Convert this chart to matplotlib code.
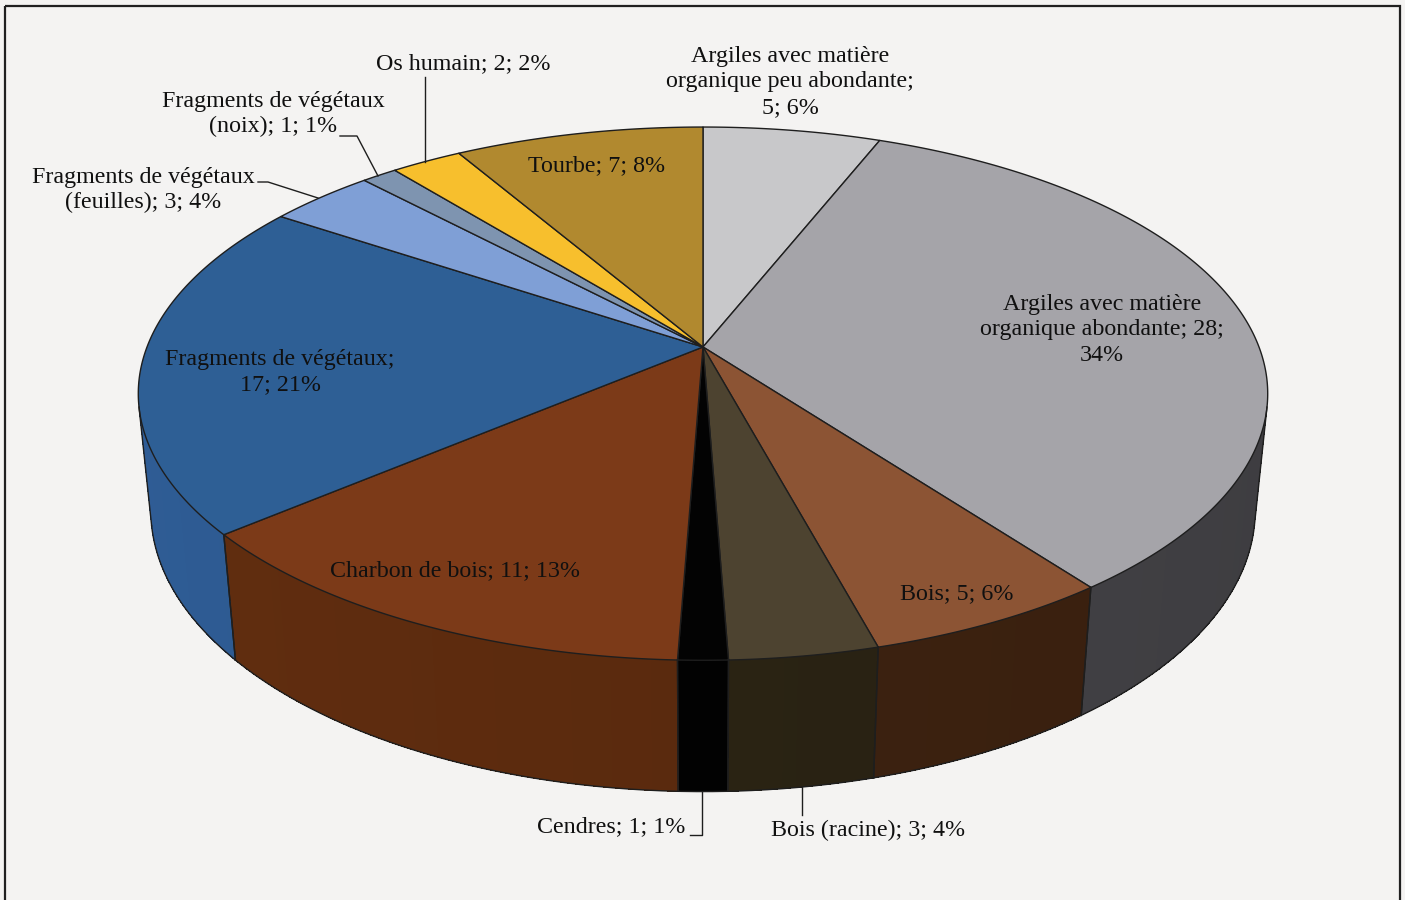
import numpy as np
import matplotlib
matplotlib.use("Agg")
from matplotlib import pyplot as plt
from matplotlib.patches import Polygon, Rectangle

# counts per category, clockwise from 12 o'clock
categories = [
    "Argiles avec matière\norganique peu abondante;\n5; 6%",
    "Argiles avec matière\norganique abondante; 28;\n34%",
    "Bois; 5; 6%",
    "Bois (racine); 3; 4%",
    "Cendres; 1; 1%",
    "Charbon de bois; 11; 13%",
    "Fragments de végétaux;\n17; 21%",
    "Fragments de végétaux\n(feuilles); 3; 4%",
    "Fragments de végétaux\n(noix); 1; 1%",
    "Os humain; 2; 2%",
    "Tourbe; 7; 8%",
]
counts = [5, 28, 5, 3, 1, 11, 17, 3, 1, 2, 7]

top_colors = ["#c8c8ca", "#a5a4a9", "#8c5434", "#4d4330", "#030303", "#7c3a18",
              "#2e5f95", "#7f9fd6", "#7e94b0", "#f7bf2d", "#b1892f"]
side_colors = ["#8a8a8c", "#444347", "#3d2210", "#2a2313", "#020202", "#5a2a0e",
               "#2b5589", "#5a74a0", "#5a6b80", "#b08820", "#7e6020"]

# label anchor in pixels (x, y)
label_pos = [(790, 82), (1102, 330), (957, 594), (868, 830), (611, 827), (455, 571),
             (280, 372), (143, 190), (273, 114), (463, 64), (597, 166)]

W, H = 1405, 900
cx, cy = 703, 347
k = 556.0
elev = np.radians(27.7)
D = 5.06
depth = 0.24
line_c = "#1e1e1e"


def project(phi, r, z):
    x = r * np.sin(phi)
    y = r * np.cos(phi)
    v = y * np.sin(elev) + z * np.cos(elev)
    w = -y * np.cos(elev) + z * np.sin(elev)
    s = D / (D - w)
    return np.column_stack([cx + k * x * s, cy - k * v * s])


fig = plt.figure(figsize=(W / 100, H / 100), dpi=100)
fig.patch.set_facecolor("#f4f3f2")
ax = fig.add_axes([0, 0, 1, 1])
ax.set_xlim(0, W)
ax.set_ylim(H, 0)
ax.axis("off")

ax.add_patch(Rectangle((5, 6), 1395, 920, fill=False, ec="#202020", lw=1.6))

frac = np.array(counts) / np.sum(counts)
edges = np.concatenate([[0], np.cumsum(frac)]) * 2 * np.pi

# front-facing part of the cylinder wall
lim = np.arccos(-1.0 / (D * np.cos(elev)))
vis_lo, vis_hi = lim, 2 * np.pi - lim

# side walls, shaded strip by strip
for i in range(len(counts)):
    a, b = max(edges[i], vis_lo), min(edges[i + 1], vis_hi)
    if a >= b:
        continue
    base = np.array(matplotlib.colors.to_rgb(side_colors[i]))
    n = max(int((b - a) / 0.02), 1)
    ts = np.linspace(a, b, n + 1)
    for j in range(n):
        t = np.linspace(ts[j], min(ts[j + 1] + 0.006, b), 4)
        top = project(t, 1, 0)
        bot = project(t, 1, -depth)
        fac = 1.0 - 0.18 * (np.sin(ts[j]) + 1) / 2 + 0.09
        col = np.clip(base * fac, 0, 1)
        ax.add_patch(Polygon(np.vstack([top, bot[::-1]]), closed=True, fc=col,
                             ec="none", antialiased=False))
    t = np.linspace(a, b, 200)
    bot = project(t, 1, -depth)
    ax.plot(bot[:, 0], bot[:, 1], color=line_c, lw=1.0)
    for ang in (a, b):
        p = np.vstack([project(np.array([ang]), 1, 0), project(np.array([ang]), 1, -depth)])
        ax.plot(p[:, 0], p[:, 1], color=line_c, lw=1.0)

# top faces
for i in range(len(counts)):
    t = np.linspace(edges[i], edges[i + 1], 300)
    rim = project(t, 1, 0)
    pts = np.vstack([[cx, cy], rim])
    ax.add_patch(Polygon(pts, closed=True, fc=top_colors[i], ec=line_c, lw=1.0,
                         joinstyle="round"))

# leader lines for outside labels
ax.plot([425, 425], [77, 162], color=line_c, lw=1.0)
ax.plot([340, 357, 378], [136, 136, 176], color=line_c, lw=1.0)
ax.plot([258, 268, 318], [182, 182, 198], color=line_c, lw=1.0)
ax.plot([690, 702, 702], [835, 835, 792], color=line_c, lw=1.0)
ax.plot([802, 802], [787, 815], color=line_c, lw=1.0)

for text, (x, y) in zip(categories, label_pos):
    ax.text(x, y, text, ha="center", va="center", family="Liberation Serif",
            fontsize=17.3, color="#101010", linespacing=1.27,
            multialignment="center")

fig.savefig("out.png", dpi=100, facecolor=fig.get_facecolor())
